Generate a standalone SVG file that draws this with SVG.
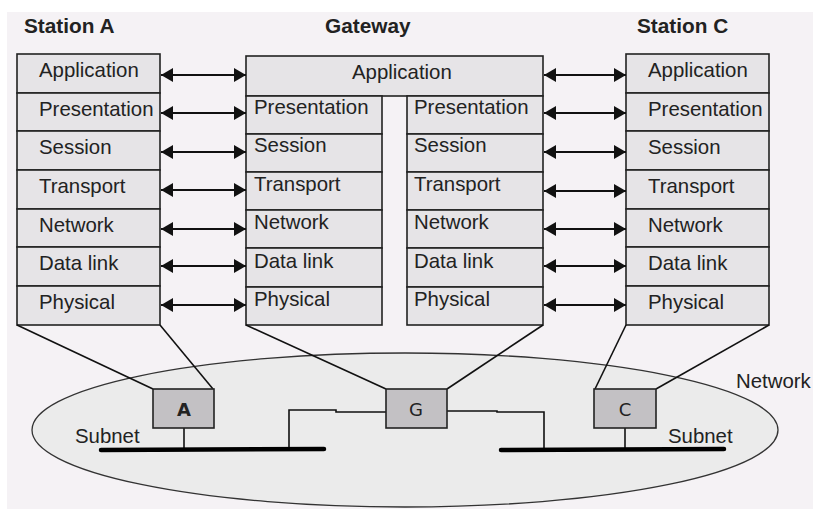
<svg xmlns="http://www.w3.org/2000/svg" width="813" height="510" viewBox="0 0 813 510">
<defs>
<marker id="ah" markerUnits="userSpaceOnUse" markerWidth="12" markerHeight="14" refX="12" refY="7" orient="auto-start-reverse">
<path d="M0,0 L12,7 L0,14 Z" fill="#111"/>
</marker>
<style>
.lay{fill:#e6e4e7;stroke:#222;stroke-width:1.6}
.t{font-family:"Liberation Sans",Arial,sans-serif;font-size:20.4px;fill:#222}
.h{font-family:"Liberation Sans",Arial,sans-serif;font-size:20.8px;font-weight:bold;fill:#222}
.n{font-family:"DejaVu Sans",Verdana,sans-serif;font-size:18px;fill:#222;text-anchor:middle}
.box{fill:#c3c1c4;stroke:#222;stroke-width:1.6}
.ln{fill:none;stroke:#111;stroke-width:1.6}
.ar{stroke:#111;stroke-width:2;marker-start:url(#ah);marker-end:url(#ah)}
.bar{stroke:#000;stroke-width:4.5;stroke-linecap:round}
</style>
</defs>
<rect x="7" y="12" width="806" height="497" fill="#f5f2f5"/>
<ellipse cx="405" cy="430" rx="373" ry="77" fill="#ebebeb" stroke="#333" stroke-width="1.3"/>

<text class="h" x="24" y="33">Station A</text>
<text class="h" x="325" y="33">Gateway</text>
<text class="h" x="637" y="33">Station C</text>

<g id="stationA">
<rect class="lay" x="17" y="54" width="143" height="39"/>
<rect class="lay" x="17" y="93" width="143" height="38"/>
<rect class="lay" x="17" y="131" width="143" height="39"/>
<rect class="lay" x="17" y="170" width="143" height="39"/>
<rect class="lay" x="17" y="209" width="143" height="38"/>
<rect class="lay" x="17" y="247" width="143" height="39"/>
<rect class="lay" x="17" y="286" width="143" height="39"/>
<text class="t" x="39" y="77">Application</text>
<text class="t" x="39" y="116">Presentation</text>
<text class="t" x="39" y="154">Session</text>
<text class="t" x="39" y="193">Transport</text>
<text class="t" x="39" y="232">Network</text>
<text class="t" x="39" y="270">Data link</text>
<text class="t" x="39" y="309">Physical</text>
</g>

<g id="gateway">
<rect class="lay" x="246" y="56" width="297" height="40"/>
<text class="t" x="352" y="79">Application</text>
<rect class="lay" x="246" y="96" width="136" height="38"/>
<rect class="lay" x="246" y="134" width="136" height="38"/>
<rect class="lay" x="246" y="172" width="136" height="38"/>
<rect class="lay" x="246" y="210" width="136" height="38"/>
<rect class="lay" x="246" y="248" width="136" height="39"/>
<rect class="lay" x="246" y="287" width="136" height="38"/>
<text class="t" x="254" y="114">Presentation</text>
<text class="t" x="254" y="152">Session</text>
<text class="t" x="254" y="191">Transport</text>
<text class="t" x="254" y="229">Network</text>
<text class="t" x="254" y="268">Data link</text>
<text class="t" x="254" y="306">Physical</text>
<rect class="lay" x="407" y="96" width="136" height="38"/>
<rect class="lay" x="407" y="134" width="136" height="38"/>
<rect class="lay" x="407" y="172" width="136" height="38"/>
<rect class="lay" x="407" y="210" width="136" height="38"/>
<rect class="lay" x="407" y="248" width="136" height="39"/>
<rect class="lay" x="407" y="287" width="136" height="38"/>
<text class="t" x="414" y="114">Presentation</text>
<text class="t" x="414" y="152">Session</text>
<text class="t" x="414" y="191">Transport</text>
<text class="t" x="414" y="229">Network</text>
<text class="t" x="414" y="268">Data link</text>
<text class="t" x="414" y="306">Physical</text>
</g>

<g id="stationC">
<rect class="lay" x="626" y="54" width="143" height="39"/>
<rect class="lay" x="626" y="93" width="143" height="38"/>
<rect class="lay" x="626" y="131" width="143" height="39"/>
<rect class="lay" x="626" y="170" width="143" height="39"/>
<rect class="lay" x="626" y="209" width="143" height="38"/>
<rect class="lay" x="626" y="247" width="143" height="39"/>
<rect class="lay" x="626" y="286" width="143" height="39"/>
<text class="t" x="648" y="77">Application</text>
<text class="t" x="648" y="116">Presentation</text>
<text class="t" x="648" y="154">Session</text>
<text class="t" x="648" y="193">Transport</text>
<text class="t" x="648" y="232">Network</text>
<text class="t" x="648" y="270">Data link</text>
<text class="t" x="648" y="309">Physical</text>
</g>

<g id="connectors">
<line class="ar" x1="161" y1="75" x2="246" y2="75"/>
<line class="ar" x1="161" y1="113" x2="246" y2="113"/>
<line class="ar" x1="161" y1="152" x2="246" y2="152"/>
<line class="ar" x1="161" y1="190" x2="246" y2="190"/>
<line class="ar" x1="161" y1="229" x2="246" y2="229"/>
<line class="ar" x1="161" y1="266" x2="246" y2="266"/>
<line class="ar" x1="161" y1="305" x2="246" y2="305"/>
<line class="ar" x1="544" y1="75" x2="626" y2="75"/>
<line class="ar" x1="544" y1="113" x2="626" y2="113"/>
<line class="ar" x1="544" y1="152" x2="626" y2="152"/>
<line class="ar" x1="544" y1="191" x2="626" y2="191"/>
<line class="ar" x1="544" y1="229" x2="626" y2="229"/>
<line class="ar" x1="544" y1="266" x2="626" y2="266"/>
<line class="ar" x1="544" y1="305" x2="626" y2="305"/>
<line class="ln" x1="17" y1="325" x2="153" y2="389"/>
<line class="ln" x1="160" y1="325" x2="213" y2="389"/>
<line class="ln" x1="246" y1="325" x2="386" y2="389"/>
<line class="ln" x1="543" y1="325" x2="447" y2="389"/>
<line class="ln" x1="626" y1="325" x2="595" y2="389"/>
<line class="ln" x1="769" y1="325" x2="656" y2="389"/>
<line class="ln" x1="184" y1="428" x2="184" y2="449"/>
<polyline class="ln" points="386,412 336,412 336,410 289,410 289,449"/>
<polyline class="ln" points="447,411 497,411 497,412 544,412 544,449"/>
<line class="ln" x1="625" y1="428" x2="625" y2="449"/>
<line class="bar" x1="101" y1="450" x2="324" y2="449"/>
<line class="bar" x1="501" y1="450" x2="724" y2="449"/>
</g>

<g id="nodeA">
<rect class="box" x="153" y="389" width="61" height="39"/>
<text class="n" x="184" y="416" font-weight="bold">A</text>
</g>
<g id="nodeG">
<rect class="box" x="386" y="389" width="61" height="39"/>
<text class="n" x="416" y="416">G</text>
</g>
<g id="nodeC">
<rect class="box" x="594" y="389" width="62" height="39"/>
<text class="n" x="625" y="416">C</text>
</g>

<text class="t" x="75" y="443">Subnet</text>
<text class="t" x="668" y="443">Subnet</text>
<text class="t" x="736" y="388">Network</text>
</svg>
